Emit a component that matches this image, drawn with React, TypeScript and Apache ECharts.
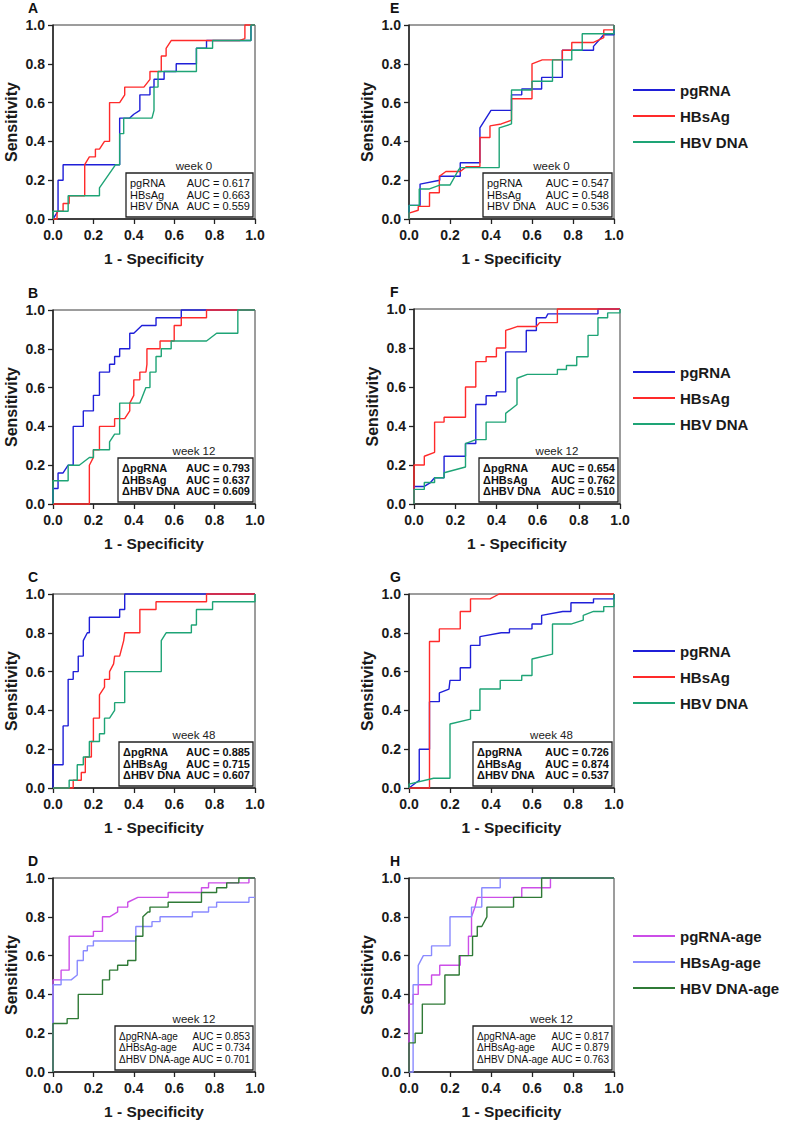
import React, { useEffect, useRef } from "react";
import * as echarts from "echarts";

const FONT = "'Liberation Sans', Arial, Helvetica, sans-serif";

// ---- ROC curve vertices: [1 - specificity, sensitivity] ----
const rocA_pgRNA = [[0,0],[0.025,0.04],[0.025,0.2],[0.05,0.2],[0.05,0.28],[0.33,0.28],[0.33,0.52],[0.38,0.52],[0.4,0.54],[0.43,0.56],[0.43,0.64],[0.48,0.64],[0.48,0.68],[0.5,0.68],[0.5,0.72],[0.55,0.72],[0.55,0.76],[0.61,0.76],[0.61,0.8],[0.71,0.8],[0.71,0.88],[0.76,0.88],[0.76,0.92],[0.98,0.92],[0.98,1],[1,1]];
const rocA_HBsAg = [[0,0],[0.02,0],[0.02,0.04],[0.05,0.04],[0.05,0.08],[0.08,0.08],[0.08,0.12],[0.157,0.12],[0.157,0.28],[0.18,0.32],[0.21,0.32],[0.21,0.36],[0.23,0.36],[0.255,0.4],[0.28,0.4],[0.28,0.6],[0.33,0.6],[0.355,0.64],[0.355,0.68],[0.45,0.68],[0.48,0.72],[0.48,0.76],[0.536,0.76],[0.536,0.84],[0.56,0.84],[0.56,0.88],[0.585,0.92],[0.924,0.92],[0.95,0.93],[0.95,1],[1,1]];
const rocA_HBVDNA = [[0,0],[0,0.04],[0.075,0.04],[0.075,0.12],[0.23,0.12],[0.23,0.16],[0.31,0.28],[0.33,0.28],[0.33,0.44],[0.35,0.44],[0.35,0.52],[0.49,0.52],[0.5,0.56],[0.5,0.68],[0.52,0.68],[0.52,0.76],[0.71,0.76],[0.71,0.88],[0.79,0.88],[0.79,0.92],[0.98,0.92],[0.98,1],[1,1]];

const rocB_pgRNA = [[0,0],[0,0.08],[0.025,0.08],[0.025,0.16],[0.05,0.16],[0.075,0.2],[0.1,0.2],[0.1,0.4],[0.15,0.4],[0.15,0.48],[0.2,0.48],[0.2,0.56],[0.23,0.56],[0.23,0.68],[0.28,0.68],[0.28,0.72],[0.305,0.72],[0.305,0.76],[0.33,0.76],[0.33,0.8],[0.38,0.8],[0.38,0.88],[0.4,0.88],[0.44,0.92],[0.51,0.92],[0.51,0.96],[0.635,0.96],[0.635,1],[1,1]];
const rocB_HBsAg = [[0,0],[0.18,0],[0.18,0.2],[0.2,0.24],[0.2,0.28],[0.23,0.28],[0.23,0.4],[0.305,0.4],[0.305,0.44],[0.355,0.44],[0.38,0.48],[0.38,0.52],[0.4,0.56],[0.4,0.64],[0.43,0.64],[0.43,0.68],[0.46,0.68],[0.465,0.72],[0.465,0.8],[0.53,0.8],[0.53,0.84],[0.6,0.84],[0.6,0.92],[0.635,0.92],[0.635,0.96],[0.76,0.96],[0.76,1],[1,1]];
const rocB_HBVDNA = [[0,0],[0,0.12],[0.075,0.12],[0.075,0.2],[0.13,0.2],[0.18,0.24],[0.2,0.24],[0.2,0.28],[0.28,0.28],[0.28,0.32],[0.305,0.36],[0.33,0.36],[0.33,0.52],[0.43,0.52],[0.46,0.6],[0.48,0.6],[0.48,0.68],[0.51,0.68],[0.51,0.76],[0.536,0.76],[0.536,0.8],[0.585,0.8],[0.585,0.84],[0.76,0.84],[0.81,0.88],[0.915,0.88],[0.915,1],[1,1]];

const rocC_pgRNA = [[0,0],[0,0.12],[0.05,0.12],[0.05,0.32],[0.075,0.32],[0.075,0.56],[0.1,0.56],[0.1,0.6],[0.125,0.6],[0.125,0.68],[0.15,0.68],[0.15,0.76],[0.17,0.8],[0.18,0.8],[0.18,0.88],[0.33,0.88],[0.33,0.92],[0.355,0.92],[0.355,1],[1,1]];
const rocC_HBsAg = [[0,0],[0.1,0],[0.1,0.04],[0.14,0.04],[0.14,0.08],[0.16,0.08],[0.16,0.16],[0.19,0.16],[0.19,0.24],[0.2,0.24],[0.2,0.36],[0.23,0.36],[0.23,0.48],[0.255,0.52],[0.255,0.56],[0.28,0.56],[0.28,0.6],[0.3,0.64],[0.305,0.68],[0.33,0.68],[0.35,0.76],[0.355,0.8],[0.43,0.8],[0.43,0.92],[0.51,0.92],[0.51,0.96],[0.76,0.96],[0.76,1],[1,1]];
const rocC_HBVDNA = [[0,0],[0.08,0],[0.08,0.04],[0.12,0.04],[0.12,0.12],[0.15,0.12],[0.15,0.16],[0.18,0.16],[0.18,0.24],[0.23,0.24],[0.23,0.28],[0.255,0.28],[0.255,0.36],[0.28,0.36],[0.305,0.4],[0.305,0.44],[0.355,0.44],[0.355,0.6],[0.536,0.6],[0.536,0.76],[0.56,0.8],[0.685,0.8],[0.685,0.84],[0.71,0.84],[0.71,0.92],[0.79,0.92],[0.79,0.96],[1,0.96],[1,1]];

const rocD_pgRNA = [[0,0],[0,0.475],[0.04,0.475],[0.04,0.525],[0.08,0.525],[0.08,0.7],[0.2,0.7],[0.2,0.725],[0.245,0.725],[0.245,0.8],[0.28,0.8],[0.32,0.825],[0.32,0.85],[0.37,0.85],[0.37,0.875],[0.42,0.9],[0.57,0.9],[0.57,0.925],[0.735,0.925],[0.735,0.95],[0.77,0.95],[0.77,0.975],[0.97,0.975],[0.97,1],[1,1]];
const rocD_HBsAg = [[0,0],[0,0.45],[0.04,0.45],[0.04,0.475],[0.09,0.475],[0.12,0.5],[0.12,0.575],[0.15,0.575],[0.15,0.625],[0.17,0.625],[0.17,0.65],[0.2,0.65],[0.2,0.675],[0.41,0.675],[0.41,0.75],[0.49,0.75],[0.49,0.775],[0.53,0.775],[0.53,0.8],[0.69,0.8],[0.69,0.825],[0.77,0.825],[0.77,0.85],[0.81,0.85],[0.81,0.875],[0.97,0.875],[0.97,0.9],[1,0.9]];
const rocD_HBVDNA = [[0,0],[0,0.25],[0.07,0.25],[0.07,0.275],[0.125,0.275],[0.125,0.4],[0.245,0.4],[0.245,0.475],[0.28,0.475],[0.28,0.525],[0.32,0.525],[0.32,0.55],[0.37,0.55],[0.37,0.575],[0.41,0.575],[0.41,0.7],[0.445,0.7],[0.445,0.8],[0.47,0.825],[0.48,0.825],[0.48,0.85],[0.57,0.85],[0.57,0.875],[0.735,0.875],[0.735,0.925],[0.81,0.925],[0.81,0.95],[0.86,0.95],[0.86,0.975],[0.92,0.975],[0.92,1],[1,1]];

const rocE_pgRNA = [[0,0],[0,0.07],[0.054,0.07],[0.054,0.18],[0.15,0.2],[0.15,0.22],[0.25,0.22],[0.25,0.29],[0.346,0.29],[0.346,0.47],[0.4,0.56],[0.5,0.56],[0.5,0.64],[0.55,0.64],[0.55,0.67],[0.647,0.67],[0.647,0.73],[0.748,0.73],[0.748,0.87],[0.9,0.87],[0.9,0.89],[0.95,0.95],[1,0.95],[1,1]];
const rocE_HBsAg = [[0,0],[0,0.03],[0.045,0.045],[0.045,0.065],[0.1,0.065],[0.1,0.135],[0.148,0.135],[0.148,0.22],[0.18,0.245],[0.25,0.245],[0.28,0.27],[0.346,0.27],[0.346,0.42],[0.395,0.42],[0.395,0.48],[0.45,0.49],[0.5,0.51],[0.5,0.62],[0.6,0.62],[0.6,0.8],[0.65,0.82],[0.748,0.82],[0.748,0.87],[0.794,0.87],[0.794,0.91],[0.9,0.91],[0.95,0.935],[0.95,0.975],[1,0.975],[1,1]];
const rocE_HBVDNA = [[0,0],[0,0.07],[0.05,0.07],[0.05,0.155],[0.1,0.155],[0.15,0.175],[0.2,0.175],[0.24,0.25],[0.25,0.265],[0.44,0.265],[0.44,0.47],[0.5,0.49],[0.5,0.665],[0.6,0.665],[0.6,0.71],[0.7,0.71],[0.7,0.82],[0.794,0.82],[0.794,0.87],[0.845,0.87],[0.845,0.955],[1,0.955],[1,1]];

const rocF_pgRNA = [[0,0],[0,0.09],[0.05,0.09],[0.08,0.11],[0.1,0.135],[0.146,0.135],[0.146,0.245],[0.25,0.245],[0.25,0.31],[0.3,0.31],[0.3,0.51],[0.35,0.51],[0.35,0.555],[0.4,0.555],[0.4,0.575],[0.445,0.575],[0.445,0.78],[0.545,0.78],[0.545,0.89],[0.594,0.89],[0.594,0.955],[0.64,0.955],[0.65,0.975],[0.893,0.975],[0.893,1],[1,1]];
const rocF_HBsAg = [[0,0],[0,0.2],[0.05,0.2],[0.05,0.245],[0.1,0.265],[0.1,0.42],[0.146,0.42],[0.146,0.445],[0.25,0.445],[0.25,0.6],[0.3,0.6],[0.3,0.73],[0.35,0.73],[0.35,0.755],[0.4,0.755],[0.4,0.8],[0.445,0.8],[0.445,0.89],[0.5,0.91],[0.594,0.91],[0.61,0.93],[0.696,0.93],[0.696,1],[1,1]];
const rocF_HBVDNA = [[0,0],[0,0.075],[0.05,0.075],[0.05,0.11],[0.1,0.11],[0.1,0.135],[0.146,0.135],[0.146,0.16],[0.25,0.19],[0.25,0.31],[0.3,0.33],[0.35,0.33],[0.35,0.42],[0.445,0.42],[0.445,0.465],[0.5,0.51],[0.5,0.645],[0.55,0.665],[0.696,0.665],[0.696,0.69],[0.74,0.69],[0.74,0.71],[0.79,0.71],[0.79,0.755],[0.845,0.755],[0.845,0.865],[0.893,0.865],[0.893,0.955],[0.94,0.955],[0.94,0.98],[1,0.98],[1,1]];

const rocG_pgRNA = [[0,0],[0.05,0.04],[0.05,0.2],[0.1,0.2],[0.1,0.445],[0.148,0.445],[0.148,0.49],[0.195,0.51],[0.2,0.555],[0.25,0.555],[0.25,0.62],[0.3,0.62],[0.3,0.735],[0.346,0.735],[0.346,0.78],[0.45,0.8],[0.49,0.8],[0.49,0.82],[0.6,0.82],[0.6,0.845],[0.647,0.845],[0.647,0.89],[0.75,0.91],[0.79,0.91],[0.79,0.955],[0.9,0.955],[0.9,0.975],[1,0.975],[1,1]];
const rocG_HBsAg = [[0,0],[0.1,0],[0.1,0.755],[0.148,0.755],[0.148,0.82],[0.25,0.82],[0.25,0.91],[0.3,0.91],[0.3,0.975],[0.395,0.975],[0.44,1],[1,1]];
const rocG_HBVDNA = [[0,0],[0,0.02],[0.12,0.05],[0.2,0.05],[0.2,0.33],[0.3,0.355],[0.3,0.4],[0.346,0.4],[0.346,0.51],[0.445,0.51],[0.445,0.555],[0.55,0.555],[0.55,0.58],[0.6,0.58],[0.6,0.665],[0.7,0.69],[0.7,0.845],[0.79,0.845],[0.85,0.865],[0.85,0.89],[0.9,0.91],[0.95,0.91],[0.95,0.935],[1,0.935],[1,1]];

const rocH_pgRNA = [[0,0],[0,0.35],[0.02,0.35],[0.02,0.4],[0.045,0.4],[0.045,0.45],[0.11,0.45],[0.11,0.5],[0.15,0.5],[0.15,0.55],[0.25,0.55],[0.25,0.6],[0.29,0.6],[0.29,0.7],[0.305,0.7],[0.305,0.8],[0.322,0.85],[0.333,0.9],[0.55,0.9],[0.55,0.95],[0.69,0.95],[0.69,1],[1,1]];
const rocH_HBsAg = [[0,0],[0.02,0],[0.02,0.45],[0.045,0.45],[0.045,0.55],[0.07,0.6],[0.11,0.6],[0.11,0.65],[0.2,0.65],[0.2,0.8],[0.305,0.8],[0.305,0.85],[0.355,0.85],[0.355,0.95],[0.445,0.95],[0.445,1],[1,1]];
const rocH_HBVDNA = [[0,0],[0,0.15],[0.03,0.15],[0.03,0.2],[0.065,0.2],[0.065,0.35],[0.175,0.35],[0.175,0.5],[0.245,0.5],[0.245,0.6],[0.31,0.6],[0.31,0.7],[0.333,0.7],[0.333,0.75],[0.355,0.75],[0.38,0.8],[0.38,0.85],[0.51,0.85],[0.51,0.9],[0.647,0.9],[0.647,1],[1,1]];

// ---- labels ----
const panelLetters = ["A", "B", "C", "D", "E", "F", "G", "H"];
const weekLabels = ["week 0", "week 12", "week 48", "week 12", "week 0", "week 12", "week 48", "week 12"];
const markerNames = ["pgRNA", "HBsAg", "HBV DNA"];
const ageNames = ["pgRNA-age", "HBsAg-age", "HBV DNA-age"];
const baselineLabels = ["pgRNA", "HBsAg", "HBV DNA"];
const deltaLabels = ["ΔpgRNA", "ΔHBsAg", "ΔHBV DNA"];
const deltaAgeLabels = ["ΔpgRNA-age", "ΔHBsAg-age", "ΔHBV DNA-age"];
const aucA = [0.617, 0.663, 0.559];
const aucB = [0.793, 0.637, 0.609];
const aucC = [0.885, 0.715, 0.607];
const aucD = [0.853, 0.734, 0.701];
const aucE = [0.547, 0.548, 0.536];
const aucF = [0.654, 0.762, 0.51];
const aucG = [0.726, 0.874, 0.537];
const aucH = [0.817, 0.879, 0.763];
const axisTicks = [0, 0.2, 0.4, 0.6, 0.8, 1.0];

const markerColors = ["#1f1fd8", "#ff2a2a", "#1ea476"];
const ageColors = ["#cc4ee8", "#8a8aff", "#2f7a36"];

// ---- layout ----
const layout = [
  { left: 53, top: 25, width: 202, height: 194, boxLeft: 126, font: "11px" },
  { left: 53, top: 310, width: 202, height: 194, boxLeft: 118, font: "bold 11px" },
  { left: 53, top: 594, width: 202, height: 194, boxLeft: 119, font: "bold 11px" },
  { left: 53, top: 878, width: 202, height: 194, boxLeft: 115, font: "10px" },
  { left: 409, top: 25, width: 205, height: 194, boxLeft: 483, font: "11px" },
  { left: 414, top: 309, width: 206, height: 195, boxLeft: 479, font: "bold 11px" },
  { left: 409, top: 594, width: 205, height: 194, boxLeft: 473, font: "bold 11px" },
  { left: 409, top: 878, width: 205, height: 194, boxLeft: 473, font: "10px" },
];

const panelCurves = [
  [rocA_pgRNA, rocA_HBsAg, rocA_HBVDNA],
  [rocB_pgRNA, rocB_HBsAg, rocB_HBVDNA],
  [rocC_pgRNA, rocC_HBsAg, rocC_HBVDNA],
  [rocD_pgRNA, rocD_HBsAg, rocD_HBVDNA],
  [rocE_pgRNA, rocE_HBsAg, rocE_HBVDNA],
  [rocF_pgRNA, rocF_HBsAg, rocF_HBVDNA],
  [rocG_pgRNA, rocG_HBsAg, rocG_HBVDNA],
  [rocH_pgRNA, rocH_HBsAg, rocH_HBVDNA],
];
const panelAuc = [aucA, aucB, aucC, aucD, aucE, aucF, aucG, aucH];
const panelBoxLabels = [baselineLabels, deltaLabels, deltaLabels, deltaAgeLabels, baselineLabels, deltaLabels, deltaLabels, deltaAgeLabels];
const isAgePanel = [false, false, false, true, false, false, false, true];

// right-hand legends: first row centre y and which names
const legendRows = [
  { top: 90, names: markerNames },
  { top: 372, names: markerNames },
  { top: 651, names: markerNames },
  { top: 936, names: ageNames },
];

function buildOption() {
  const grid: any[] = [];
  const xAxis: any[] = [];
  const yAxis: any[] = [];
  const series: any[] = [];
  const graphic: any[] = [];

  layout.forEach((g, i) => {
    grid.push({
      left: g.left, top: g.top, width: g.width, height: g.height,
      show: true, borderColor: "#3a3a3a", borderWidth: 1, backgroundColor: "transparent",
    });
    const labelStyle = { fontFamily: FONT, fontWeight: "bold", fontSize: 14, color: "#1a1a1a" };
    xAxis.push({
      gridIndex: i, type: "value", min: axisTicks[0], max: axisTicks[axisTicks.length - 1], interval: 0.2,
      name: "1 - Specificity", nameLocation: "middle", nameGap: 31,
      nameTextStyle: { fontFamily: FONT, fontWeight: "bold", fontSize: 15.5, color: "#1a1a1a" },
      axisLine: { show: true, onZero: false, lineStyle: { color: "#222", width: 1.5 } },
      axisTick: { show: true, length: 5, lineStyle: { color: "#222", width: 1.3 } },
      axisLabel: { ...labelStyle, margin: 9, formatter: (v: number) => v.toFixed(1) },
      splitLine: { show: false },
    });
    yAxis.push({
      gridIndex: i, type: "value", min: 0, max: 1, interval: 0.2,
      name: "Sensitivity", nameLocation: "middle", nameGap: 34,
      nameTextStyle: { fontFamily: FONT, fontWeight: "bold", fontSize: 16, color: "#1a1a1a" },
      axisLine: { show: true, onZero: false, lineStyle: { color: "#222", width: 1.5 } },
      axisTick: { show: true, length: 5, lineStyle: { color: "#222", width: 1.3 } },
      axisLabel: { ...labelStyle, margin: 8, formatter: (v: number) => v.toFixed(1) },
      splitLine: { show: false },
    });

    const names = isAgePanel[i] ? ageNames : markerNames;
    const colors = isAgePanel[i] ? ageColors : markerColors;
    panelCurves[i].forEach((curve, k) => {
      series.push({
        type: "line", name: names[k], xAxisIndex: i, yAxisIndex: i,
        data: curve, showSymbol: false, symbol: "none", clip: false,
        lineStyle: { color: colors[k], width: 1.4 }, itemStyle: { color: colors[k] },
        z: 2 + k,
      });
    });

    // panel letter
    graphic.push({
      type: "text", x: g.left < 200 ? 28 : 390, y: g.top - 17, z: 50,
      style: { text: panelLetters[i], font: `bold 14px ${FONT}`, fill: "#111", verticalAlign: "middle", align: "left" },
    });

    // AUC box
    const boxRight = g.left + g.width - 2;
    const boxBottom = g.top + g.height - 2;
    const boxTop = boxBottom - 44;
    graphic.push({
      type: "rect", z: 60,
      shape: { x: g.boxLeft, y: boxTop, width: boxRight - g.boxLeft, height: boxBottom - boxTop },
      style: { fill: "#ffffff", stroke: "#222", lineWidth: 1.3 },
    });
    graphic.push({
      type: "text", z: 61, x: g.left + g.width / 2 + 40, y: boxTop - 7,
      style: { text: weekLabels[i], font: `11.5px ${FONT}`, fill: "#222", align: "center", verticalAlign: "middle" },
    });
    panelBoxLabels[i].forEach((lab, k) => {
      const y = boxTop + 10 + k * 11.5;
      graphic.push({
        type: "text", z: 61, x: g.boxLeft + 4, y,
        style: { text: lab, font: `${g.font} ${FONT}`, fill: "#111", align: "left", verticalAlign: "middle" },
      });
      graphic.push({
        type: "text", z: 61, x: boxRight - 3, y,
        style: { text: `AUC = ${panelAuc[i][k].toFixed(3)}`, font: `${g.font} ${FONT}`, fill: "#111", align: "right", verticalAlign: "middle" },
      });
    });
  });

  const legend = legendRows.map((row) => ({
    orient: "vertical", left: 633, top: row.top - 8,
    data: row.names, icon: "rect", itemWidth: 42, itemHeight: 2, itemGap: 10,
    selectedMode: false, padding: 0,
    textStyle: { fontFamily: FONT, fontWeight: "bold", fontSize: 15, color: "#1a1a1a", lineHeight: 16 },
  }));

  return {
    animation: false,
    backgroundColor: "#ffffff",
    grid, xAxis, yAxis, series, graphic, legend,
  };
}

export default function App() {
  const ref = useRef<HTMLDivElement>(null);
  useEffect(() => {
    if (!ref.current) return;
    const chart = echarts.init(ref.current, undefined, { renderer: "svg" });
    chart.setOption(buildOption() as any);
    return () => chart.dispose();
  }, []);
  return <div ref={ref} style={{ position: "absolute", left: 0, top: 0, width: 785, height: 1122 }} />;
}
